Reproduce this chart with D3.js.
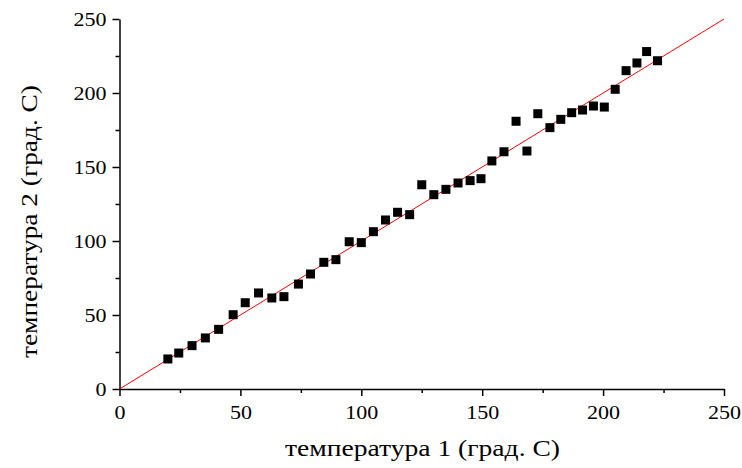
<!DOCTYPE html>
<html>
<head>
<meta charset="utf-8">
<script src="https://cdn.jsdelivr.net/npm/d3@7"></script>
<style>
body{margin:0;background:#fff;}
svg{display:block;}
.axis text{font-family:"Liberation Serif","Times New Roman",serif;font-size:19px;fill:#000;}
.axis path,.axis line{stroke:#000;stroke-width:1.5;}
.title{font-family:"Liberation Serif","Times New Roman",serif;font-size:24px;fill:#000;}
</style>
</head>
<body>
<svg id="chart" width="742" height="468"></svg>
<script>
// temperature 1 readings
const t1=[20,24.5,30,35.5,41,47,52,57.5,63,68,74,79,84.5,89.5,95,100,105,110,115,120,
  125,130,135,140,145,149.5,154,159,164,168.5,173,178,182.5,187,191.5,196,200.5,205,209.5,214,218,222.5];
// temperature 2 readings
const t2=[20.3,24.3,29.3,34.5,40.3,50.2,58.3,64.9,61.5,62.4,70.9,77.7,85.6,87.4,99.5,98.9,106.3,114.2,119.4,117.8,
  138,131.3,134.9,139.2,140.8,142.1,154.1,160.3,180.9,160.8,186,176.6,182.2,186.7,188.5,191.2,190.5,202.5,215.1,220.3,228,221.8];
const majorTicks=[0,50,100,150,200,250];
const minorTicks=[25,75,125,175,225];
const fitLine=[[0,0],[250,250]];
const xTitle="температура 1 (град. С)";
const yTitle="температура 2 (град. С)";

const svg=d3.select("#chart");
const x=d3.scaleLinear().domain([0,250]).range([119.5,724]);
const y=d3.scaleLinear().domain([0,250]).range([389,19]);

// the labels in the picture are a bit wider than the font, stretch them
const stretch=(sel)=>sel.selectAll(".tick text")
  .attr("textLength",function(){return this.textContent.length*11;})
  .attr("lengthAdjust","spacingAndGlyphs");

// minor ticks first, majors on top
svg.append("g").attr("class","axis")
  .attr("transform","translate(0,389)")
  .call(d3.axisBottom(x).tickValues(minorTicks).tickSize(4).tickFormat(""))
  .select(".domain").remove();
svg.append("g").attr("class","axis")
  .attr("transform","translate(119.5,0)")
  .call(d3.axisLeft(y).tickValues(minorTicks).tickSize(4).tickFormat(""))
  .select(".domain").remove();

svg.append("g").attr("class","axis")
  .attr("transform","translate(0,389)")
  .call(d3.axisBottom(x).tickValues(majorTicks).tickSize(7).tickSizeOuter(0).tickPadding(10))
  .call(stretch);
svg.append("g").attr("class","axis")
  .attr("transform","translate(119.5,0)")
  .call(d3.axisLeft(y).tickValues(majorTicks).tickSize(7).tickSizeOuter(0).tickPadding(6))
  .call(stretch);

svg.append("path")
  .datum(fitLine)
  .attr("fill","none")
  .attr("stroke","#ff0000")
  .attr("stroke-width",1)
  .attr("d",d3.line().x((d)=>x(d[0])).y((d)=>y(d[1])));

const pts=t1.map((v,i)=>[v,t2[i]]);
svg.append("g").selectAll("rect")
  .data(pts)
  .enter()
    .append("rect")
    .attr("x",(d)=>x(d[0])-4.5)
    .attr("y",(d)=>y(d[1])-4.5)
    .attr("width",9)
    .attr("height",9)
    .attr("fill","#000");

svg.append("text")
  .attr("class","title")
  .attr("x",422.5)
  .attr("y",456)
  .attr("text-anchor","middle")
  .attr("textLength",275)
  .attr("lengthAdjust","spacingAndGlyphs")
  .text(xTitle);
svg.append("text")
  .attr("class","title")
  .attr("transform","translate(37,221.5) rotate(-90)")
  .attr("text-anchor","middle")
  .attr("textLength",273)
  .attr("lengthAdjust","spacingAndGlyphs")
  .text(yTitle);
</script>
</body>
</html>
